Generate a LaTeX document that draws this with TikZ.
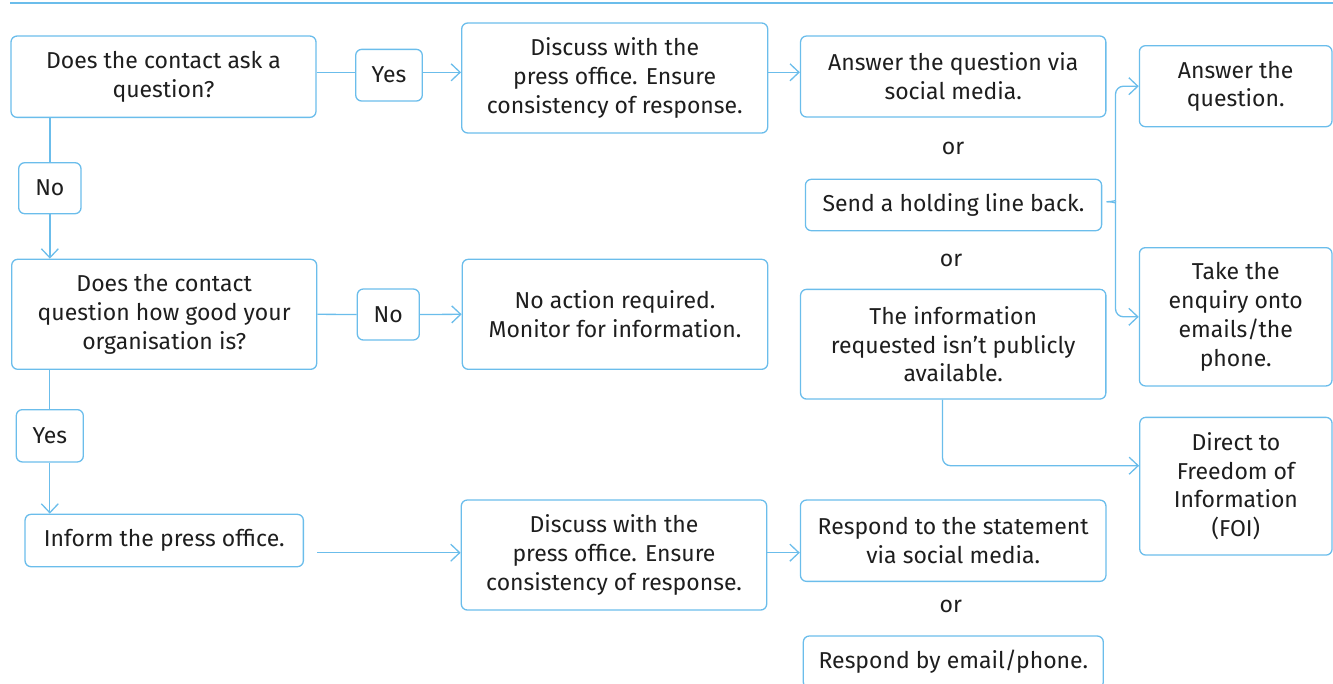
\documentclass[tikz,border=0pt]{standalone}
\usepackage{fontspec}
\setmainfont{Fira Sans}
\usetikzlibrary{arrows.meta}
\definecolor{lb}{RGB}{107,189,235}
\definecolor{tx}{RGB}{30,30,30}
\begin{document}
\begin{tikzpicture}[x=1pt,y=-1pt,
  box/.style={draw=lb, line width=1.3pt, rounded corners=6pt, inner sep=0pt, align=center, text=tx, font=\fontsize{23}{28.7}\selectfont},
  ortext/.style={inner sep=0pt, text=tx, font=\fontsize{23}{28.7}\selectfont},
  ln/.style={draw=lb, line width=1.3pt},
  arr/.style={ln, -{Straight Barb[length=9pt,width=17pt]}}]
\path[use as bounding box] (0,0) rectangle (1333,683);
\clip (0,0) rectangle (1333,683);
\draw[ln] (10.3,3) -- (1333,3);

\node[box, minimum width=305pt, minimum height=81.3pt] (A) at (163.5,76.7) {Does the contact ask a\\question?};
\node[box, minimum width=66.6pt, minimum height=51.7pt] (Ya) at (389,75.2) {Yes};
\node[box, minimum width=306pt, minimum height=110pt] (B) at (614.7,78) {Discuss with the\\press office. Ensure\\consistency of response.};
\node[box, minimum width=305.3pt, minimum height=81pt] (C) at (953.2,76.5) {Answer the question via\\social media.};
\node[ortext] (or1) at (953,148) {or};
\node[box, minimum width=296.2pt, minimum height=51.4pt] (D) at (953.5,205) {Send a holding line back.};
\node[ortext] (or2) at (951,260) {or};
\node[box, minimum width=305.3pt, minimum height=109.7pt] (E) at (953.2,344.2) {The information\\requested isn’t publicly\\available.};
\node[box, minimum width=192.6pt, minimum height=81pt] (F) at (1235.7,86.2) {Answer the\\question.};
\node[box, minimum width=192.6pt, minimum height=138.3pt] (G) at (1235.7,316.8) {Take the\\enquiry onto\\emails/the\\phone.};
\node[box, minimum width=192.3pt, minimum height=137.7pt] (H) at (1235.9,486.2) {Direct to\\Freedom of\\Information\\(FOI)};
\node[box, minimum width=62.3pt, minimum height=51pt] (No1) at (49.85,188.2) {No};
\node[box, minimum width=305pt, minimum height=110pt] (I) at (164.2,314.3) {Does the contact\\question how good your\\organisation is?};
\node[box, minimum width=62pt, minimum height=51pt] (No2) at (388.3,314.5) {No};
\node[box, minimum width=305.4pt, minimum height=110pt] (J) at (615,314.3) {No action required.\\Monitor for information.};
\node[box, minimum width=67pt, minimum height=52.3pt] (Yb) at (49.8,435.8) {Yes};
\node[box, minimum width=278.3pt, minimum height=52.4pt] (K) at (164.2,540.5) {Inform the press office.};
\node[box, minimum width=305.4pt, minimum height=110pt] (L) at (614,555) {Discuss with the\\press office. Ensure\\consistency of response.};
\node[box, minimum width=305.5pt, minimum height=81.3pt] (M) at (953.2,540.7) {Respond to the statement\\via social media.};
\node[ortext] (or3) at (950.8,606.7) {or};
\node[box, minimum width=300pt, minimum height=52pt] (N) at (953.3,662) {Respond by email/phone.};

\coordinate (ya) at ([yshift=4.4pt]A.east);
\draw[ln] (ya) -- (ya -| Ya.west);
\draw[arr] (ya -| Ya.east) -- (ya -| B.west);
\draw[arr] (ya -| B.east) -- (ya -| C.west);

\draw[ln] (A.south -| No1.north) -- (No1.north);
\draw[arr] (No1.south) -- (No1.south |- I.north);
\draw[ln] (I.east) -- (No2.west);
\draw[arr] (No2.east) -- (J.west);
\draw[ln] (I.south -| Yb.north) -- (Yb.north);
\draw[arr] (Yb.south) -- (Yb.south |- K.north);
\coordinate (kl) at (317,552.7);
\draw[arr] (kl) -- (kl -| L.west);
\draw[arr] (kl -| L.east) -- (kl -| M.west);

\draw[arr, rounded corners=8pt] ([xshift=-10.7pt]E.south) |- ([yshift=20.5pt]H.west);

\coordinate (bt) at ([xshift=4.4pt,yshift=3.3pt]D.east);
\draw[arr, rounded corners=8pt] (bt) .. controls +(7,0) and +(0,7) .. (1115.5,193) |- (F.west);
\draw[arr, rounded corners=8pt] (bt) .. controls +(7,0) and +(0,-7) .. (1115.5,210.4) |- (G.west);
\end{tikzpicture}
\end{document}
